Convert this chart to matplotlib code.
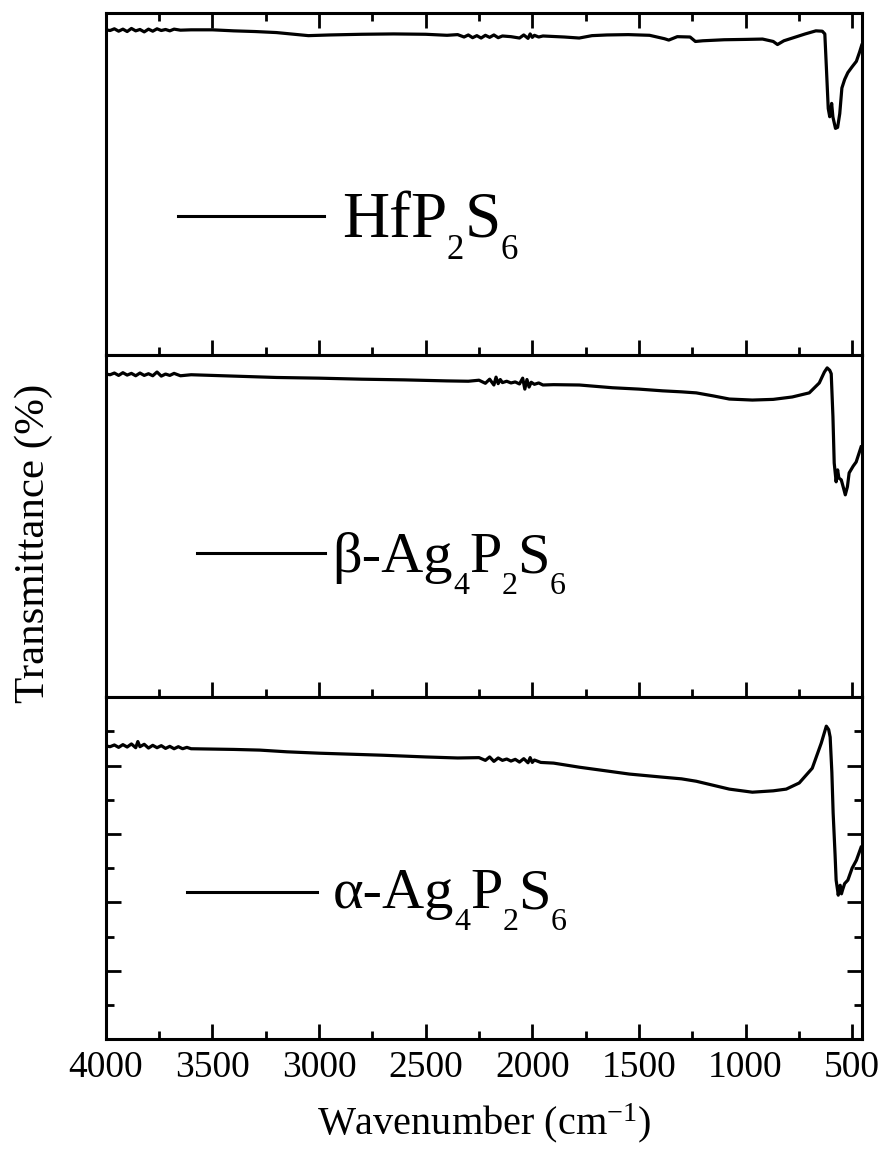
import matplotlib
matplotlib.use('Agg')
import matplotlib.pyplot as plt
from matplotlib.ticker import MultipleLocator

plt.rcParams['font.family'] = ['Liberation Serif', 'DejaVu Serif']
plt.rcParams['mathtext.fontset'] = 'custom'
plt.rcParams['mathtext.rm'] = 'Liberation Serif'
plt.rcParams['mathtext.it'] = 'Liberation Serif:italic'
plt.rcParams['mathtext.default'] = 'regular'

# HfP2S6 (top panel)
hf_wn = [4000, 3980, 3960, 3940, 3920, 3900, 3880, 3860, 3840, 3820, 3800, 3780, 3760, 3740,
         3720, 3700, 3680, 3650, 3600, 3500, 3400, 3300, 3200, 3100, 3050, 2950, 2800, 2650,
         2500, 2400, 2350, 2320, 2300, 2280, 2260, 2240, 2220, 2200, 2180, 2160, 2140, 2100,
         2060, 2040, 2020, 2010, 2000, 1990, 1970, 1950, 1850, 1780, 1720, 1650, 1550, 1450,
         1380, 1360, 1320, 1260, 1235, 1200, 1100, 1000, 920, 870, 850, 820, 780, 720, 670,
         640, 628, 620, 612, 605, 600, 596, 590, 578, 568, 558, 548, 535, 520, 500, 480, 465, 455]
hf_t = [95.0, 94.8, 95.3, 94.6, 95.2, 94.5, 95.4, 94.7, 95.1, 94.4, 95.2, 94.6, 95.3, 94.8,
        95.1, 94.7, 95.2, 94.9, 95.0, 95.0, 94.7, 94.5, 94.2, 93.6, 93.3, 93.5, 93.7, 93.8,
        93.7, 93.4, 93.6, 92.9, 93.5, 92.7, 93.3, 92.6, 93.4, 92.8, 93.5, 92.7, 93.2, 93.0,
        92.6, 93.5, 92.5, 93.8, 92.8, 93.4, 92.9, 93.2, 92.9, 92.6, 93.3, 93.5, 93.6, 93.4,
        92.4, 92.0, 93.0, 92.9, 91.6, 91.8, 92.1, 92.2, 92.3, 91.6, 90.7, 91.8, 92.6, 93.8, 94.7,
        94.6, 93.8, 83.0, 72.0, 69.6, 71.5, 73.5, 69.5, 66.2, 66.5, 70.5, 78.0, 80.5, 82.5, 84.2,
        85.8, 88.5, 90.5]

# beta-Ag4P2S6 (middle panel)
beta_wn = [4000, 3980, 3960, 3940, 3920, 3900, 3880, 3860, 3840, 3820, 3800, 3780, 3760, 3740,
           3720, 3700, 3680, 3650, 3600, 3500, 3400, 3300, 3200, 3100, 3000, 2800, 2600, 2400,
           2300, 2250, 2220, 2200, 2180, 2170, 2160, 2150, 2140, 2120, 2100, 2080, 2060, 2045,
           2035, 2025, 2015, 2005, 1990, 1970, 1950, 1900, 1779, 1624, 1500, 1390, 1300, 1231,
           1150, 1076, 968, 870, 781, 701, 654, 630, 617, 605, 598, 590, 584, 575, 568, 562, 551,
           540, 532, 522, 514, 495, 481, 458]
beta_t = [94.4, 94.2, 94.7, 94.0, 94.8, 94.1, 94.6, 93.9, 94.7, 94.0, 94.5, 93.9, 95.0, 93.8,
          94.4, 94.0, 94.6, 93.9, 94.2, 94.0, 93.8, 93.6, 93.4, 93.3, 93.2, 92.9, 92.7, 92.4,
          92.3, 92.6, 91.7, 92.9, 91.2, 93.5, 91.6, 92.8, 91.9, 92.3, 91.8, 92.1, 91.5, 93.2,
          90.0, 92.8, 90.6, 92.0, 91.4, 91.8, 91.2, 91.3, 91.2, 90.4, 90.0, 89.5, 89.2, 88.9,
          88.0, 87.1, 86.8, 87.0, 87.7, 88.9, 91.8, 95.0, 96.2, 95.5, 94.5, 82.0, 68.4, 62.9,
          66.4, 64.0, 63.5, 61.0, 59.1, 61.5, 65.5, 67.5, 68.7, 73.1]

# alpha-Ag4P2S6 (bottom panel)
alpha_wn = [4000, 3980, 3960, 3940, 3920, 3900, 3880, 3860, 3850, 3840, 3820, 3800, 3780, 3760,
            3740, 3720, 3700, 3680, 3660, 3640, 3620, 3600, 3500, 3400, 3278, 3150, 3000, 2850,
            2700, 2500, 2350, 2250, 2220, 2200, 2180, 2160, 2140, 2120, 2100, 2080, 2060, 2040,
            2020, 2010, 2000, 1990, 1960, 1900, 1779, 1650, 1545, 1390, 1300, 1231, 1150, 1076,
            968, 870, 809, 748, 687, 645, 621, 610, 603, 595, 589, 580, 575, 568, 565, 560, 556,
            550, 545, 535, 520, 500, 480, 458]
alpha_t = [85.7, 85.5, 86.0, 85.3, 86.1, 85.4, 86.3, 85.2, 87.0, 85.5, 86.2, 85.1, 85.9, 85.2,
           85.8, 85.0, 85.6, 84.9, 85.5, 84.9, 85.3, 84.9, 84.8, 84.7, 84.5, 84.0, 83.6, 83.3,
           83.0, 82.5, 82.2, 82.3, 81.5, 82.5, 81.2, 82.2, 81.5, 81.9, 81.3, 81.8, 81.0, 82.0,
           80.8, 82.3, 80.9, 81.6, 80.9, 80.7, 79.5, 78.4, 77.5, 76.6, 76.1, 75.4, 74.2, 73.1,
           72.2, 72.6, 73.1, 74.9, 79.2, 86.5, 91.5, 90.5, 88.3, 78.0, 66.1, 54.0, 46.5, 43.5,
           42.1, 44.5, 45.0, 42.5, 43.6, 45.5, 46.5, 50.0, 52.3, 56.1]

# sample names split into (text, is_subscript) pieces
labels = [[('HfP', False), ('2', True), ('S', False), ('6', True)],
          [('β-Ag', False), ('4', True), ('P', False), ('2', True), ('S', False), ('6', True)],
          [('α-Ag', False), ('4', True), ('P', False), ('2', True), ('S', False), ('6', True)]]
label_size = [47, 42, 42]
sub_size = [25, 23, 23]
# label geometry in axes fraction: line x0, x1, line y, text x, text baseline
label_geo = [(0.095, 0.288, 0.406, 0.312, 0.345),
             (0.120, 0.290, 0.421, 0.300, 0.365),
             (0.108, 0.280, 0.430, 0.300, 0.383)]


def write_label(ax, pieces, x, base, size, ssize, drop=16):
    prev = None
    for txt, sub in pieces:
        fs = ssize if sub else size
        dy = -drop if sub else 0
        if prev is None:
            prev = ax.text(x, base, txt, transform=ax.transAxes, fontsize=fs,
                           ha='left', va='baseline')
        else:
            prev = ax.annotate(txt, xy=(1, base), xycoords=(prev, ax.transAxes),
                               xytext=(0, dy), textcoords='offset points',
                               fontsize=fs, ha='left', va='baseline')


fig, axes = plt.subplots(3, 1, sharex=True, figsize=(8.82, 11.56), dpi=100)
fig.subplots_adjust(left=0.120, right=0.977, top=0.989, bottom=0.101, hspace=0)

series = [(hf_wn, hf_t), (beta_wn, beta_t), (alpha_wn, alpha_t)]
for i, ax in enumerate(axes):
    wn, t = series[i]
    ax.plot(wn, t, color='black', lw=2.3)
    ax.set_xlim(4000, 455)
    ax.set_ylim(0, 100)
    ax.xaxis.set_major_locator(MultipleLocator(500))
    ax.xaxis.set_minor_locator(MultipleLocator(250))
    for s in ax.spines.values():
        s.set_linewidth(2.2)
    ax.tick_params(which='both', direction='in', width=2.0, top=(i == 0), bottom=True,
                   labelbottom=(i == 2), labelsize=27, pad=8)
    ax.tick_params(which='major', length=11)
    ax.tick_params(which='minor', length=6)
    if i < 2:
        ax.set_yticks([])
    else:
        ax.yaxis.set_major_locator(MultipleLocator(20))
        ax.yaxis.set_minor_locator(MultipleLocator(10))
        ax.tick_params(axis='y', which='both', left=True, right=True, labelleft=False)

    x0, x1, ly, tx, tb = label_geo[i]
    ax.plot([x0, x1], [ly, ly], color='black', lw=2.2, transform=ax.transAxes)
    write_label(ax, labels[i], tx, tb, label_size[i], sub_size[i])

axes[2].set_xlabel('Wavenumber (cm$^{-1}$)', fontsize=29, labelpad=12)
fig.text(0.038, 0.530, 'Transmittance (%)', rotation=90, fontsize=31, ha='center', va='center')

fig.savefig('out.png', dpi=100)
